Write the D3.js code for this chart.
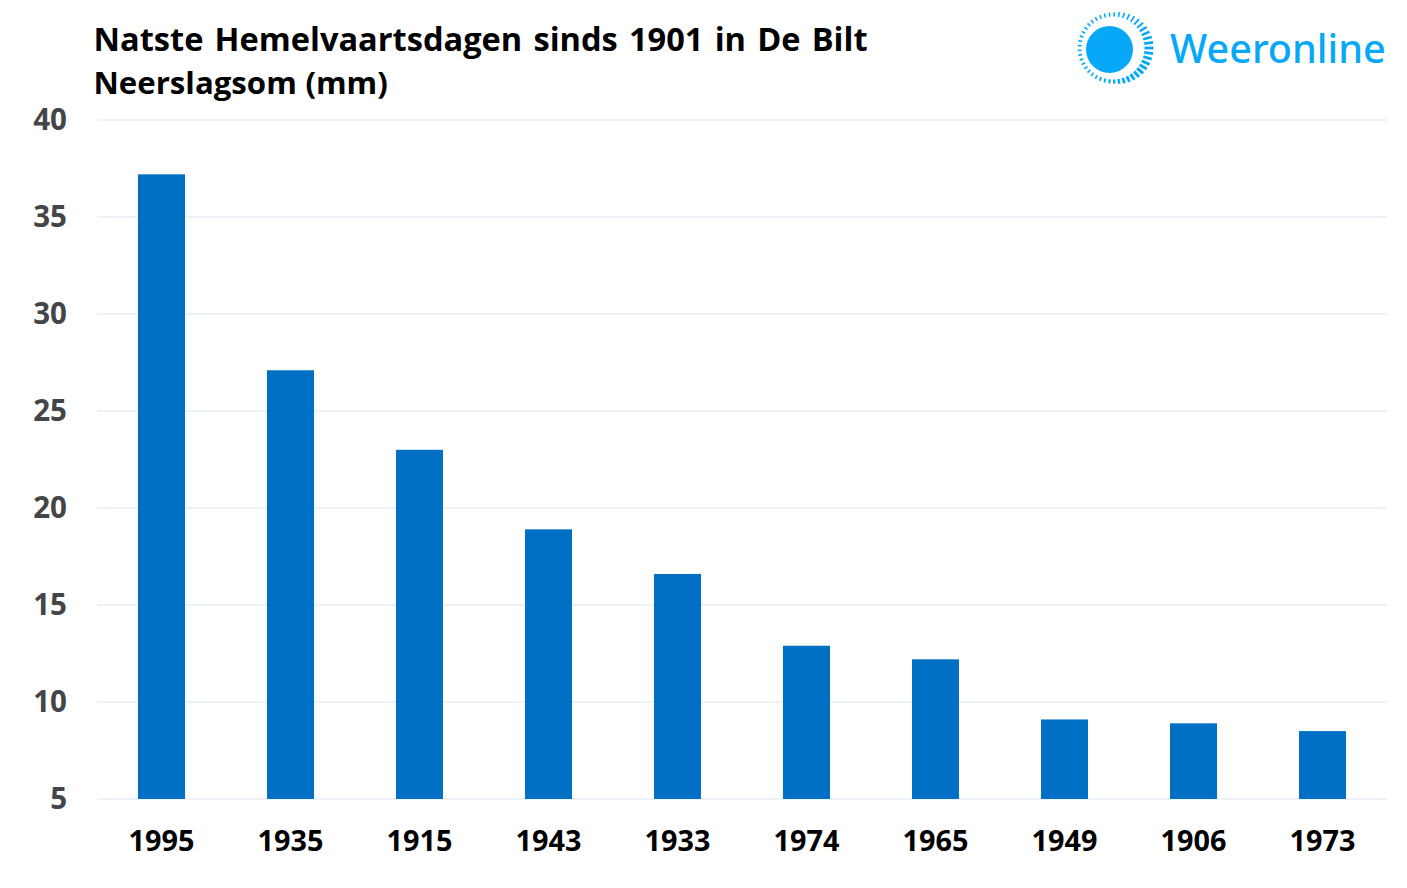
<!DOCTYPE html>
<html><head><meta charset="utf-8">
<script src="https://cdn.jsdelivr.net/npm/d3@7"></script>
<style>
html,body{margin:0;padding:0;background:#fff;overflow:hidden}
text{font-family:"Open Sans",sans-serif}
</style></head><body>
<svg id="c" width="1407" height="888"></svg>
<script>
const years = ["1995","1935","1915","1943","1933","1974","1965","1949","1906","1973"];
const rainfall = [37.2,27.1,23.0,18.9,16.6,12.9,12.2,9.1,8.9,8.5];
const yTicks = [5,10,15,20,25,30,35,40];
const titleLines = ["Natste Hemelvaartsdagen sinds 1901 in De Bilt","Neerslagsom (mm)"];

const svg = d3.select("#c");
const x = d3.scaleBand().domain(years).range([97,1387]).paddingInner(82/129).paddingOuter(41/129);
const y = d3.scaleLinear().domain([5,40]).range([799,120]);

svg.append("g").selectAll("line").data(yTicks).join("line")
  .attr("x1",97).attr("x2",1387).attr("y1",d=>y(d)).attr("y2",d=>y(d))
  .attr("stroke","#eef1f5").attr("stroke-width",2);

svg.append("g").selectAll("rect").data(years).join("rect")
  .attr("x",d=>x(d)).attr("width",x.bandwidth())
  .attr("y",(d,i)=>y(rainfall[i])).attr("height",(d,i)=>y(5)-y(rainfall[i]))
  .attr("fill","#0070c4");

const axisY = d3.axisLeft(y).tickValues(yTicks).tickSize(0).tickPadding(0);
const gy = svg.append("g").attr("transform","translate(67,-1)").call(axisY);
gy.select(".domain").remove();
gy.selectAll("text").attr("fill","#444548").style("font-size","29.5px").style("font-weight",700).style("font-family","'Open Sans',sans-serif").attr("dy",".35em").attr("dx",0);

const axisX = d3.axisBottom(x).tickSize(0).tickPadding(0);
const gx = svg.append("g").attr("transform","translate(0,831)").call(axisX);
gx.select(".domain").remove();
gx.selectAll("text").attr("fill","#000").style("font-size","28.8px").style("font-weight",700).style("font-family","'Open Sans',sans-serif").attr("dy","0.71em").attr("y",0);

const titleSizes = ["32.6px","31.2px"];
const titleGaps = ["2.7px","0.5px"];
svg.append("g").selectAll("text").data(titleLines).join("text")
  .attr("x",93.5).attr("y",(d,i)=>51+i*43)
  .attr("fill","#000").style("font-weight",700)
  .style("font-size",(d,i)=>titleSizes[i]).style("word-spacing",(d,i)=>titleGaps[i])
  .text(d=>d);

// logo
svg.append("circle").attr("cx",1109.5).attr("cy",49.5).attr("r",23.5).attr("fill","#08a8f8");
const ring = svg.append("g").attr("transform","translate(1113,48)");
const dashAngles = d3.range(0,360,8);
const rad = d=>d*Math.PI/180;
const outer = d=>35.5+5*Math.max(0,Math.cos(rad(d)));
ring.selectAll("line").data(dashAngles).join("line")
  .attr("x1",d=>31.5*Math.cos(rad(d))).attr("y1",d=>31.5*Math.sin(rad(d)))
  .attr("x2",d=>outer(d)*Math.cos(rad(d))).attr("y2",d=>outer(d)*Math.sin(rad(d)))
  .attr("stroke","#08a8f8").attr("stroke-width",d=>1.6+1.4*Math.max(0,Math.cos(rad(d-30))));
svg.append("text").attr("x",1170).attr("y",63).attr("fill","#08a8f8")
  .style("font-size","39.6px").style("font-weight",500).style("font-family","'Noto Sans',sans-serif").text("Weeronline");
</script>
</body></html>
